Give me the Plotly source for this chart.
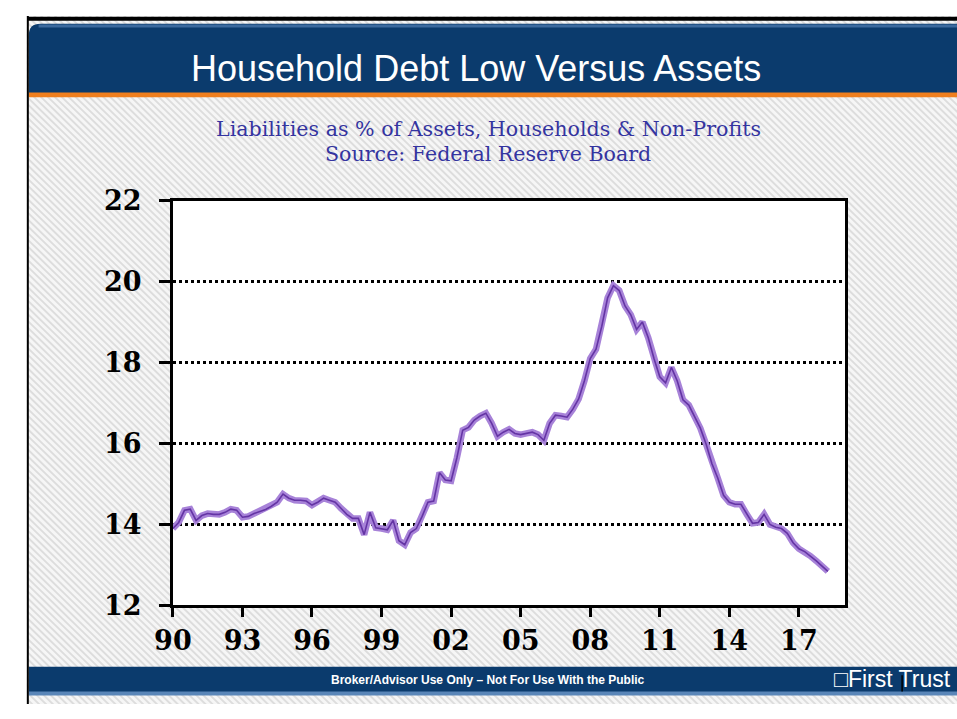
import base64
import plotly.graph_objects as go

# ---- data (quarterly) ----
start_year = 1990
values = [
    13.90, 14.05, 14.35, 14.38,   # 1990
    14.10, 14.22, 14.27, 14.25,   # 1991
    14.25, 14.30, 14.38, 14.35,   # 1992
    14.18, 14.20, 14.27, 14.32,   # 1993
    14.37, 14.45, 14.55, 14.75,   # 1994
    14.65, 14.60, 14.60, 14.58,   # 1995
    14.48, 14.55, 14.65, 14.60,   # 1996
    14.55, 14.40, 14.25, 14.15,   # 1997
    14.15, 13.75, 14.30, 13.92,   # 1998
    13.90, 13.87, 14.10, 13.60,   # 1999
    13.50, 13.80, 13.90, 14.20,   # 2000
    14.55, 14.58, 15.28, 15.10,   # 2001
    15.08, 15.65, 16.33, 16.40,   # 2002
    16.58, 16.68, 16.75, 16.50,   # 2003
    16.18, 16.28, 16.35, 16.25,   # 2004
    16.22, 16.25, 16.28, 16.22,   # 2005
    16.08, 16.50, 16.70, 16.68,   # 2006
    16.65, 16.85, 17.10, 17.55,   # 2007
    18.10, 18.33, 18.90, 19.60,   # 2008
    19.90, 19.78, 19.40, 19.18,   # 2009
    18.82, 19.00, 18.62, 18.10,   # 2010
    17.65, 17.50, 17.88, 17.55,   # 2011
    17.08, 16.95, 16.65, 16.38,   # 2012
    15.98, 15.50, 15.15, 14.72,   # 2013
    14.55, 14.50, 14.50, 14.25,   # 2014
    14.03, 14.05, 14.25, 14.00,   # 2015
    13.93, 13.90, 13.78, 13.55,   # 2016
    13.40, 13.33, 13.22, 13.10,   # 2017
    12.97, 12.84,                 # 2018
]
years = [start_year + i / 4 for i in range(len(values))]

x_tick_years = [1990, 1993, 1996, 1999, 2002, 2005, 2008, 2011, 2014, 2017]
x_tick_labels = ["90", "93", "96", "99", "02", "05", "08", "11", "14", "17"]
y_ticks = [12, 14, 16, 18, 20, 22]

title_text = "Household Debt Low Versus Assets"
subtitle_1 = "Liabilities as % of Assets, Households & Non-Profits"
subtitle_2 = "Source: Federal Reserve Board"
footer_text = "Broker/Advisor Use Only \u2013 Not For Use With the Public"
logo_text = "\u25a1First Trust"

# ---- geometry helpers (page pixels -> paper fractions) ----
W, H = 957, 719
def fx(x):
    return x / W
def fy(y):
    return 1 - y / H

# striped page background
svg = (
    "<svg xmlns='http://www.w3.org/2000/svg' width='957' height='719'>"
    "<defs><pattern id='p' width='5' height='5' patternUnits='userSpaceOnUse' "
    "patternTransform='rotate(-45)'>"
    "<rect width='5' height='5' fill='#f6f6f6'/>"
    "<rect width='2' height='5' fill='#dddddd'/></pattern></defs>"
    "<rect width='957' height='719' fill='url(#p)'/></svg>"
)
bg_uri = "data:image/svg+xml;base64," + base64.b64encode(svg.encode()).decode()

fig = go.Figure()
fig.add_trace(go.Scatter(
    x=years, y=values, mode="lines",
    line=dict(color="#a782d8", width=6.5),
    hoverinfo="skip", showlegend=False,
))
fig.add_trace(go.Scatter(
    x=years, y=values, mode="lines",
    line=dict(color="#6434a4", width=1.6),
    showlegend=False,
))

tick_font = dict(family="DejaVu Serif", size=27, color="black", weight="bold")

fig.update_layout(
    width=W, height=H,
    autosize=False,
    margin=dict(l=0, r=0, t=0, b=0, pad=0),
    paper_bgcolor="white",
    plot_bgcolor="white",
    xaxis=dict(
        domain=[fx(157), fx(843)],
        range=[1990, 2019],
        tickvals=x_tick_years, ticktext=x_tick_labels,
        ticks="outside", ticklen=9, tickwidth=3, tickcolor="black",
        showline=True, linewidth=3, linecolor="black", mirror=True,
        showgrid=False, zeroline=False,
        tickfont=tick_font, ticklabelstandoff=0,
        fixedrange=True,
    ),
    yaxis=dict(
        domain=[fy(616), fy(193)],
        range=[12, 22],
        tickvals=y_ticks,
        ticks="outside", ticklen=11, tickwidth=3, tickcolor="black",
        showline=True, linewidth=3, linecolor="black", mirror=True,
        showgrid=True, gridcolor="black", gridwidth=3, griddash="3px,3px",
        zeroline=False,
        tickfont=tick_font, ticklabelstandoff=12,
        fixedrange=True,
    ),
    images=[dict(
        source=bg_uri, xref="paper", yref="paper",
        x=0, y=1, sizex=1, sizey=1, sizing="stretch",
        xanchor="left", yanchor="top", layer="below",
    )],
)

shapes = []
# white plot area over the stripes
shapes.append(dict(type="rect", xref="paper", yref="paper",
                   x0=fx(157), x1=fx(843), y0=fy(616), y1=fy(193),
                   fillcolor="white", line=dict(width=0), layer="below"))
# white strip at far left
shapes.append(dict(type="rect", xref="paper", yref="paper",
                   x0=0, x1=fx(8), y0=0, y1=1,
                   fillcolor="white", line=dict(width=0), layer="below"))
# header band with rounded top-left corner
r = 12
hp = (f"M {fx(10)},{fy(84)} L {fx(10)},{fy(8 + r)} "
      f"Q {fx(10)},{fy(8)} {fx(10 + r)},{fy(8)} "
      f"L {fx(957)},{fy(8)} L {fx(957)},{fy(84)} Z")
shapes.append(dict(type="path", xref="paper", yref="paper", path=hp,
                   fillcolor="#0b3b6d", line=dict(width=0), layer="above"))
shapes.append(dict(type="rect", xref="paper", yref="paper",
                   x0=fx(20), x1=fx(957), y0=fy(12), y1=fy(9),
                   fillcolor="#3c6a9e", line=dict(width=0), layer="above"))
# orange rule under header
shapes.append(dict(type="rect", xref="paper", yref="paper",
                   x0=fx(10), x1=fx(957), y0=fy(85), y1=fy(80),
                   fillcolor="#f07f1e", line=dict(width=0), layer="above"))
# footer band
shapes.append(dict(type="rect", xref="paper", yref="paper",
                   x0=fx(10), x1=fx(957), y0=fy(708), y1=fy(680),
                   fillcolor="#0b3b6d", line=dict(width=0), layer="above"))
shapes.append(dict(type="rect", xref="paper", yref="paper",
                   x0=fx(10), x1=fx(957), y0=fy(710), y1=fy(706),
                   fillcolor="#5a86b8", line=dict(width=0), layer="above"))
# black frame lines
shapes.append(dict(type="line", xref="paper", yref="paper",
                   x0=fx(9), x1=fx(9), y0=0, y1=1,
                   line=dict(color="black", width=2), layer="above"))
shapes.append(dict(type="line", xref="paper", yref="paper",
                   x0=fx(9), x1=1, y0=fy(3), y1=fy(3),
                   line=dict(color="black", width=4), layer="above"))
# small mark in footer
shapes.append(dict(type="line", xref="paper", yref="paper",
                   x0=fx(901), x1=fx(901), y0=fy(689), y1=fy(706),
                   line=dict(color="black", width=1.5), layer="above"))
fig.update_layout(shapes=shapes)

annotations = [
    dict(text=title_text, x=fx(466), y=fy(55), xref="paper", yref="paper",
         showarrow=False, xanchor="center", yanchor="middle",
         font=dict(family="Liberation Sans", size=36, color="white")),
    dict(text=subtitle_1, x=fx(479), y=fy(118), xref="paper", yref="paper",
         showarrow=False, xanchor="center", yanchor="middle",
         font=dict(family="DejaVu Serif", size=20.6, color="#3434a0")),
    dict(text=subtitle_2, x=fx(479), y=fy(144), xref="paper", yref="paper",
         showarrow=False, xanchor="center", yanchor="middle",
         font=dict(family="DejaVu Serif", size=20.6, color="#3434a0")),
    dict(text="<b>" + footer_text + "</b>", x=fx(479), y=fy(694), xref="paper", yref="paper",
         showarrow=False, xanchor="center", yanchor="middle",
         font=dict(family="Liberation Sans", size=12, color="white")),
    dict(text=logo_text, x=fx(953), y=fy(693), xref="paper", yref="paper",
         showarrow=False, xanchor="right", yanchor="middle",
         font=dict(family="Liberation Sans", size=23, color="white")),
]
fig.update_layout(annotations=annotations)

fig.write_html(
    "out.html",
    config={"displayModeBar": False},
    post_script=(
        "document.documentElement.style.margin='0';"
        "document.documentElement.style.padding='0';"
        "document.body.style.margin='0';"
        "document.body.style.padding='0';"
        "document.body.style.overflow='hidden';"
    ),
)
